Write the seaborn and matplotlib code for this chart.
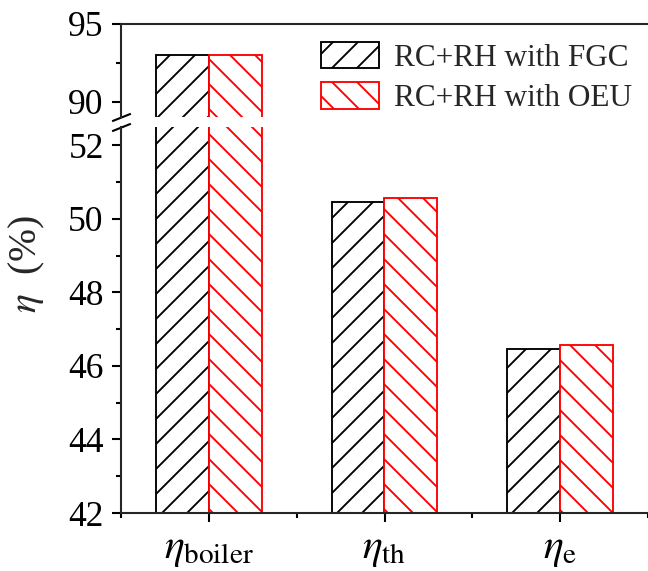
import numpy as np
import pandas as pd
import matplotlib
matplotlib.use("Agg")
import matplotlib.pyplot as plt
import seaborn as sns

# values
categories = [r"$\eta_{\mathrm{boiler}}$", r"$\eta_{\mathrm{th}}$", r"$\eta_{\mathrm{e}}$"]
fgc_values = [93.0, 50.45, 46.45]
oeu_values = [93.0, 50.58, 46.56]
series_names = ["RC+RH with FGC", "RC+RH with OEU"]

df = pd.DataFrame({
    "cat": categories * 2,
    "eta": fgc_values + oeu_values,
    "case": [series_names[0]] * 3 + [series_names[1]] * 3,
})

sns.set_theme(style="ticks")
plt.rcParams["font.family"] = ["Liberation Serif", "DejaVu Serif"]
plt.rcParams["mathtext.fontset"] = "stix"
plt.rcParams["hatch.linewidth"] = 0.9
plt.rcParams["axes.linewidth"] = 1.0

W, H = 648, 571
fig = plt.figure(figsize=(W / 150, H / 150), dpi=150)
left = 121 / W
ax_top = fig.add_axes([left, 1 - 117 / H, 1 - left, (117 - 24) / H])
ax_bot = fig.add_axes([left, 1 - 513 / H, 1 - left, (513 - 127) / H])

edge_colors = ["black", "red"]
hatches = ["//", "\\\\"]
for ax in (ax_top, ax_bot):
    sns.barplot(data=df, x="cat", y="eta", hue="case", hue_order=series_names,
                palette=["white", "white"], width=0.6, errorbar=None,
                legend=False, linewidth=0.9, ax=ax)
    for cont, ec, h in zip(ax.containers, edge_colors, hatches):
        for p in cont:
            p.set_facecolor("white")
            p.set_edgecolor(ec)
            p.set_hatch(h)
    ax.set_xlim(-0.5, 2.5)
    ax.set_xlabel("")
    ax.set_ylabel("")
    ax.spines["right"].set_visible(False)
    ax.tick_params(axis="both", which="major", direction="out", length=4.3, width=1,
                   colors="black", labelsize=17, pad=4)
    ax.tick_params(axis="both", which="minor", direction="out", length=2.4, width=1,
                   colors="black")

# upper segment
ax_top.set_ylim(89, 95)
ax_top.set_yticks([90, 95])
ax_top.set_yticks([92.5], minor=True)
ax_top.spines["bottom"].set_visible(False)
ax_top.tick_params(axis="x", which="both", bottom=False, labelbottom=False)

# lower segment
ax_bot.set_ylim(42, 52.5)
ax_bot.set_yticks(np.arange(42, 53, 2))
ax_bot.set_yticks(np.arange(43, 52, 2), minor=True)
ax_bot.spines["top"].set_visible(False)
ax_bot.set_xticks([-0.5, 0.5, 1.5, 2.5], minor=True)
ax_bot.tick_params(axis="x", which="major", labelsize=20, pad=4)

# break marks
for ax, y in ((ax_top, 0), (ax_bot, 1)):
    ax.plot([0], [y], transform=ax.transAxes, marker=[(-1, -0.4), (1, 0.4)],
            markersize=9, mec="black", mew=1, linestyle="none", clip_on=False)

ax_top.legend(ax_bot.containers, series_names, frameon=False, fontsize=15,
              handlelength=1.85, handleheight=0.92, handletextpad=0.5,
              labelspacing=0.3, borderpad=0, borderaxespad=0, loc="upper left",
              bbox_to_anchor=(321 / W, 1 - 42 / H), bbox_transform=fig.transFigure)

fig.text(27 / W, 1 - 264 / H, r"$\eta$  (%)", rotation=90, ha="center", va="center",
         fontsize=19)

fig.savefig("out.png", dpi=150)
